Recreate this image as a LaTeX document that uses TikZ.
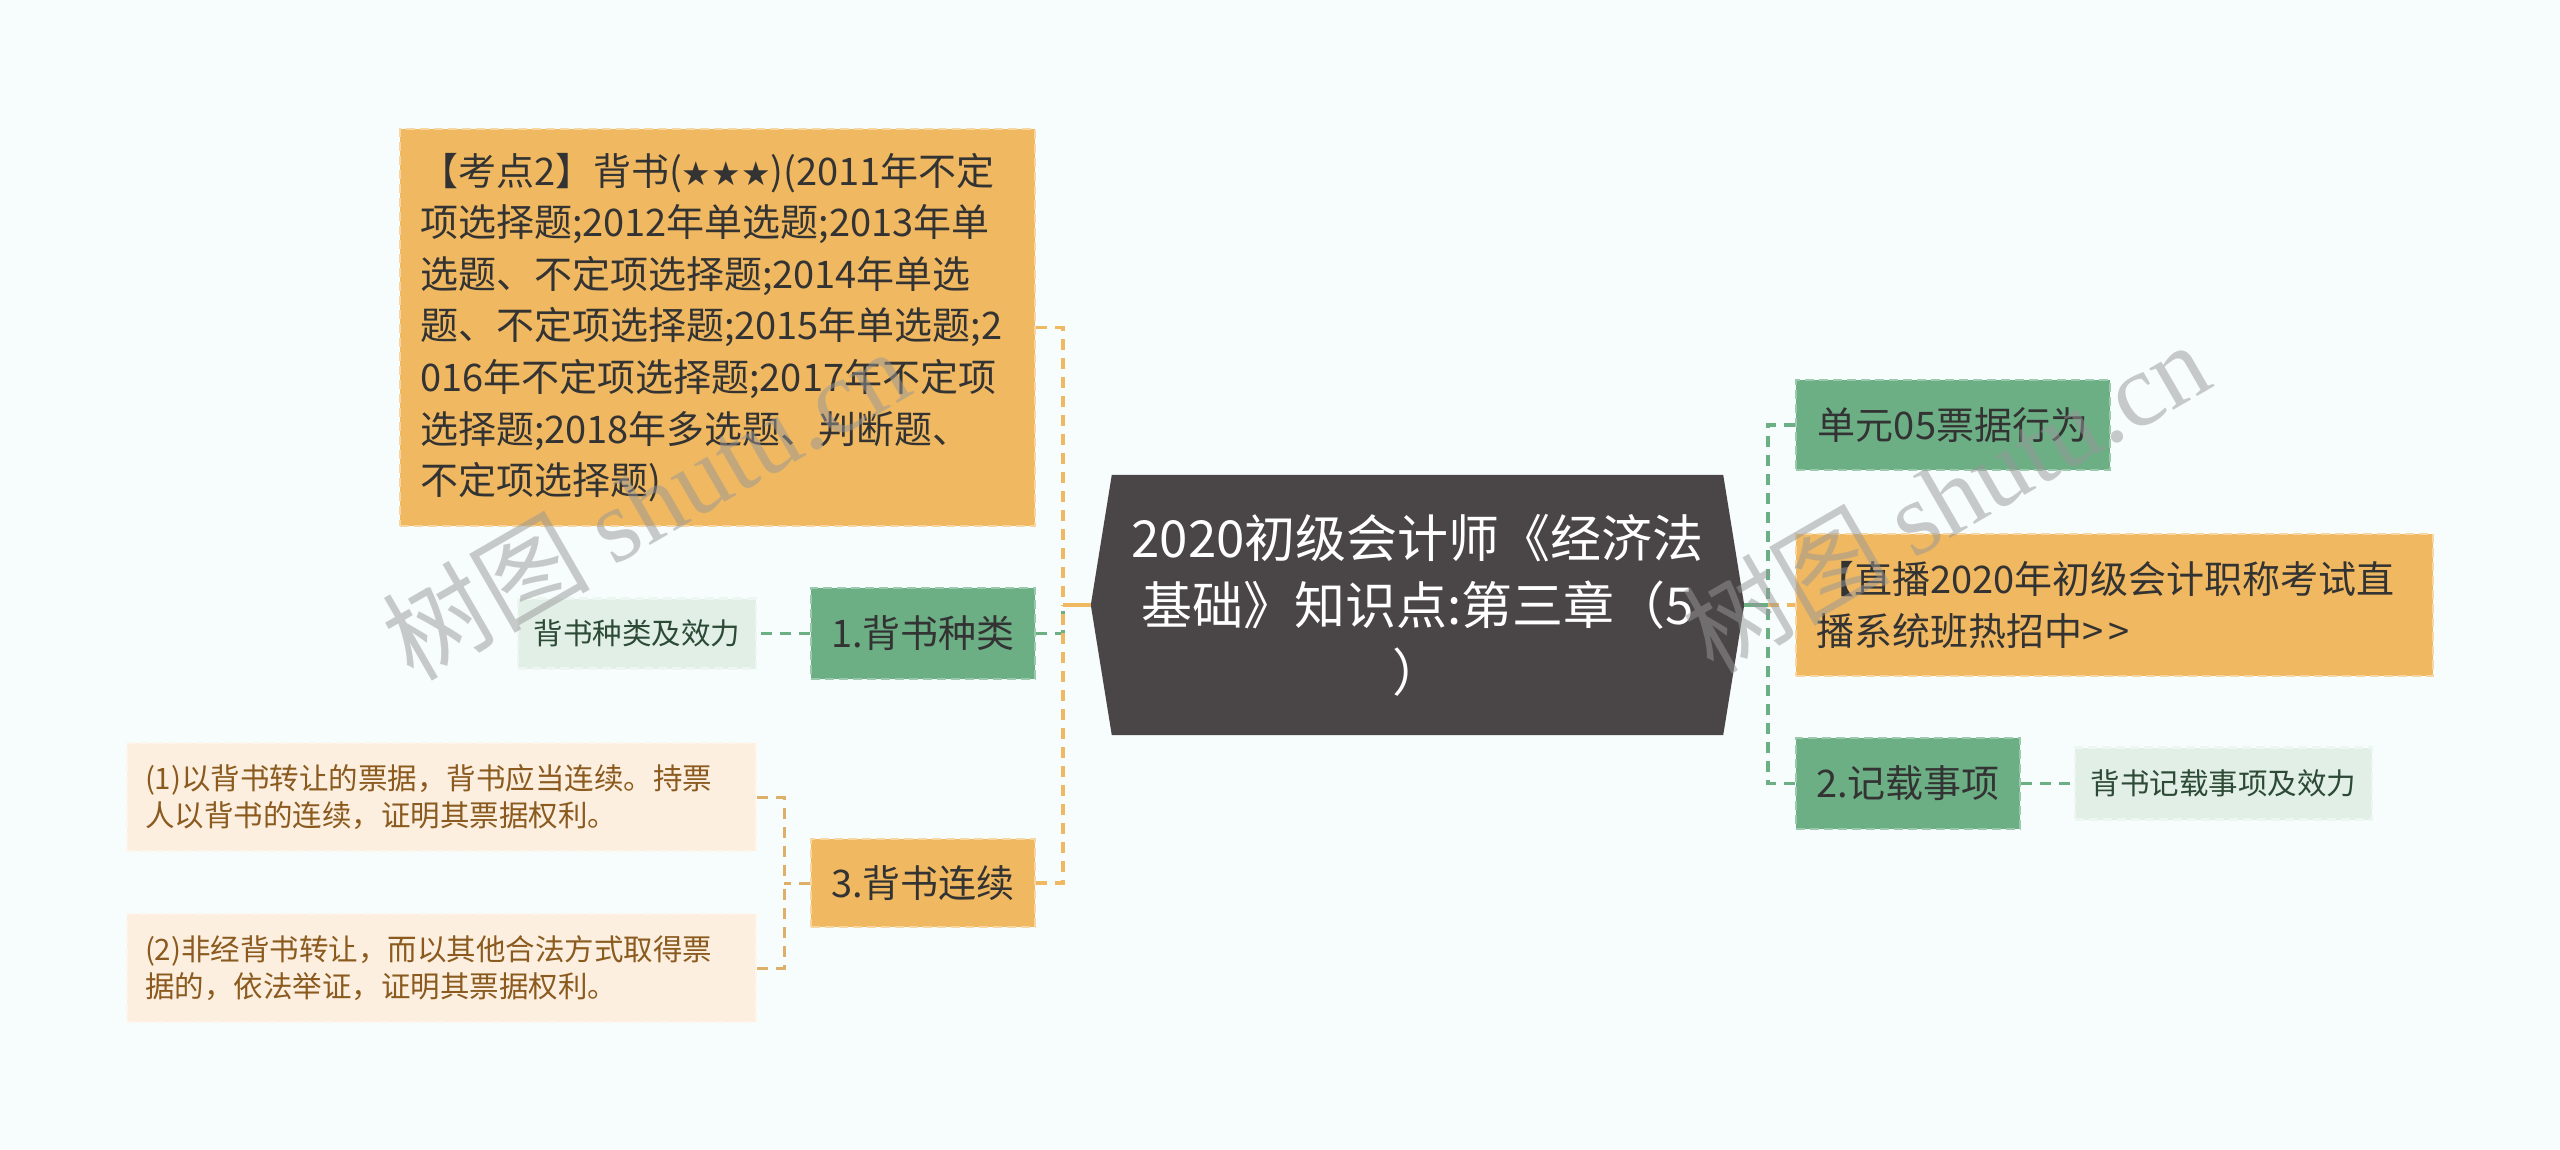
\documentclass[tikz,border=0pt]{standalone}
\usepackage{fontspec}
\setmainfont{Noto Sans CJK SC}
\newfontfamily\wmlatin{Liberation Serif}
\newfontfamily\symfont{DejaVu Sans}
\usetikzlibrary{backgrounds}
\definecolor{bgc}{HTML}{F7FCFC}
\definecolor{orF}{HTML}{F0B961}
\definecolor{orB}{HTML}{F7D6A2}
\definecolor{grF}{HTML}{6CAF85}
\definecolor{grB}{HTML}{9ACAAB}
\definecolor{lgF}{HTML}{E2EFE7}
\definecolor{lgB}{HTML}{EEF6F1}
\definecolor{loF}{HTML}{FCEFE0}
\definecolor{loB}{HTML}{FEF6EC}
\definecolor{rootF}{HTML}{4A4546}
\definecolor{txt}{HTML}{333333}
\definecolor{lgT}{HTML}{2C4A35}
\definecolor{loT}{HTML}{8A5A1E}
\definecolor{lnO}{HTML}{F0B961}
\definecolor{lnL}{HTML}{DDAF68}
\definecolor{lnG}{HTML}{6CAF85}
\definecolor{wmc}{HTML}{979797}
\begin{document}
\begin{tikzpicture}[x=1pt,y=-1pt,
  box/.style={rectangle, inner sep=0pt, line width=2.5pt, dash pattern=on 9pt off 5pt},
  obox/.style={box, fill=orF, draw=orB, text=txt},
  gbox/.style={box, fill=grF, draw=grB, text=txt},
  lgleaf/.style={box, fill=lgF, draw=lgB, text=lgT},
  loleaf/.style={box, fill=loF, draw=loB, text=loT},
  big/.style={font=\fontsize{38}{51.6}\selectfont},
  small/.style={font=\fontsize{29.5}{37.5}\selectfont},
  dashO/.style={draw=lnO, line width=3.5pt, dash pattern=on 11pt off 8pt},
  dashG/.style={draw=lnG, line width=3.5pt, dash pattern=on 11pt off 8pt},
  dashL/.style={draw=lnL, line width=3pt, dash pattern=on 11pt off 8pt},
  solidO/.style={draw=lnO, line width=4pt},
  solidG/.style={draw=lnG, line width=4pt},
  wm/.style={text=wmc, opacity=0.5, font=\fontsize{104}{110}\selectfont, inner sep=0pt}
]
\useasboundingbox (0,0) rectangle (2560,1149);

% root
\node[text=white, font=\fontsize{51}{67}\selectfont, align=center, minimum width=653, minimum height=260, inner sep=0pt] (root) at (1417.5,605)
  {2020初级会计师《经济法\\基础》知识点:第三章（5\\）};

% left side
\node[obox, big, minimum width=635, minimum height=397, text width=595, align=left] (k) at (717.5,327.5)
  {【考点2】背书({\symfont\fontsize{33}{40}\selectfont ★★★})(2011年不定\\项选择题;2012年单选题;2013年单\\选题、不定项选择题;2014年单选\\题、不定项选择题;2015年单选题;2\\016年不定项选择题;2017年不定项\\选择题;2018年多选题、判断题、\\不定项选择题)};
\node[gbox, big, minimum width=224, minimum height=91] (b1) at (923,633.5) {1.背书种类};
\node[lgleaf, small, minimum width=238, minimum height=70] (l1) at (637,633.5) {背书种类及效力};
\node[obox, big, minimum width=224, minimum height=88] (b3) at (923,883) {3.背书连续};
\node[loleaf, small, minimum width=629, minimum height=108, text width=593, align=left] (lf1) at (441.5,797)
  {(1)以背书转让的票据，背书应当连续。持票\\人以背书的连续，证明其票据权利。};
\node[loleaf, small, minimum width=629, minimum height=108, text width=593, align=left] (lf2) at (441.5,968)
  {(2)非经背书转让，而以其他合法方式取得票\\据的，依法举证，证明其票据权利。};

% right side
\node[gbox, big, minimum width=314, minimum height=90] (r1) at (1953,425) {单元05票据行为};
\node[obox, big, minimum width=637, minimum height=142, text width=597, align=left] (r2) at (2114.5,605)
  {【直播2020年初级会计职称考试直\\播系统班热招中>\kern5pt>};
\node[gbox, big, minimum width=224, minimum height=91] (r3) at (1908,783.5) {2.记载事项};
\node[lgleaf, small, minimum width=297, minimum height=72] (r3l) at (2223.5,783.5) {背书记载事项及效力};

% connectors left
\coordinate (jl) at (1063,605);
\coordinate (jr) at (1768,605);
\coordinate (jb) at (784,883);
\draw[dashG] (b1.east) -- (b1.east -| jl) -- (jl);
\draw[dashO] (k.east) -- (k.east -| jl) -- (jl);
\draw[dashO] (b3.east) -- (b3.east -| jl) -- (jl);
\draw[solidO] (root.west) -- (jl);
\draw[dashG] (b1.west) -- (l1.east);
\draw[dashL] (b3.west) -- (jb);
\draw[dashL] (lf1.east) -- (lf1.east -| jb) -- (jb);
\draw[dashL] (lf2.east) -- (lf2.east -| jb) -- (jb);

% connectors right
\draw[dashG] (r1.west) -- (r1.west -| jr) -- (jr);
\draw[dashG] (r3.west) -- (r3.west -| jr) -- (jr);
\draw[solidG] (root.east) -- (jr);
\draw[dashO] (jr) -- (r2.west);
\draw[dashG] (r3.east) -- (r3l.west);

% watermarks
\node[wm, rotate=30] (wm1) at (645,503) {树图 {\wmlatin shutu.cn}};
\node[wm, rotate=30] (wm2) at (1945,496) {树图 {\wmlatin shutu.cn}};

\begin{pgfonlayer}{background}
\fill[bgc] (0,0) rectangle (2560,1149);
\fill[rootF] (root.west) -- ([xshift=21pt]root.north west) -- ([xshift=-21pt]root.north east)
  -- (root.east) -- ([xshift=-21pt]root.south east) -- ([xshift=21pt]root.south west) -- cycle;
\end{pgfonlayer}
\end{tikzpicture}
\end{document}
